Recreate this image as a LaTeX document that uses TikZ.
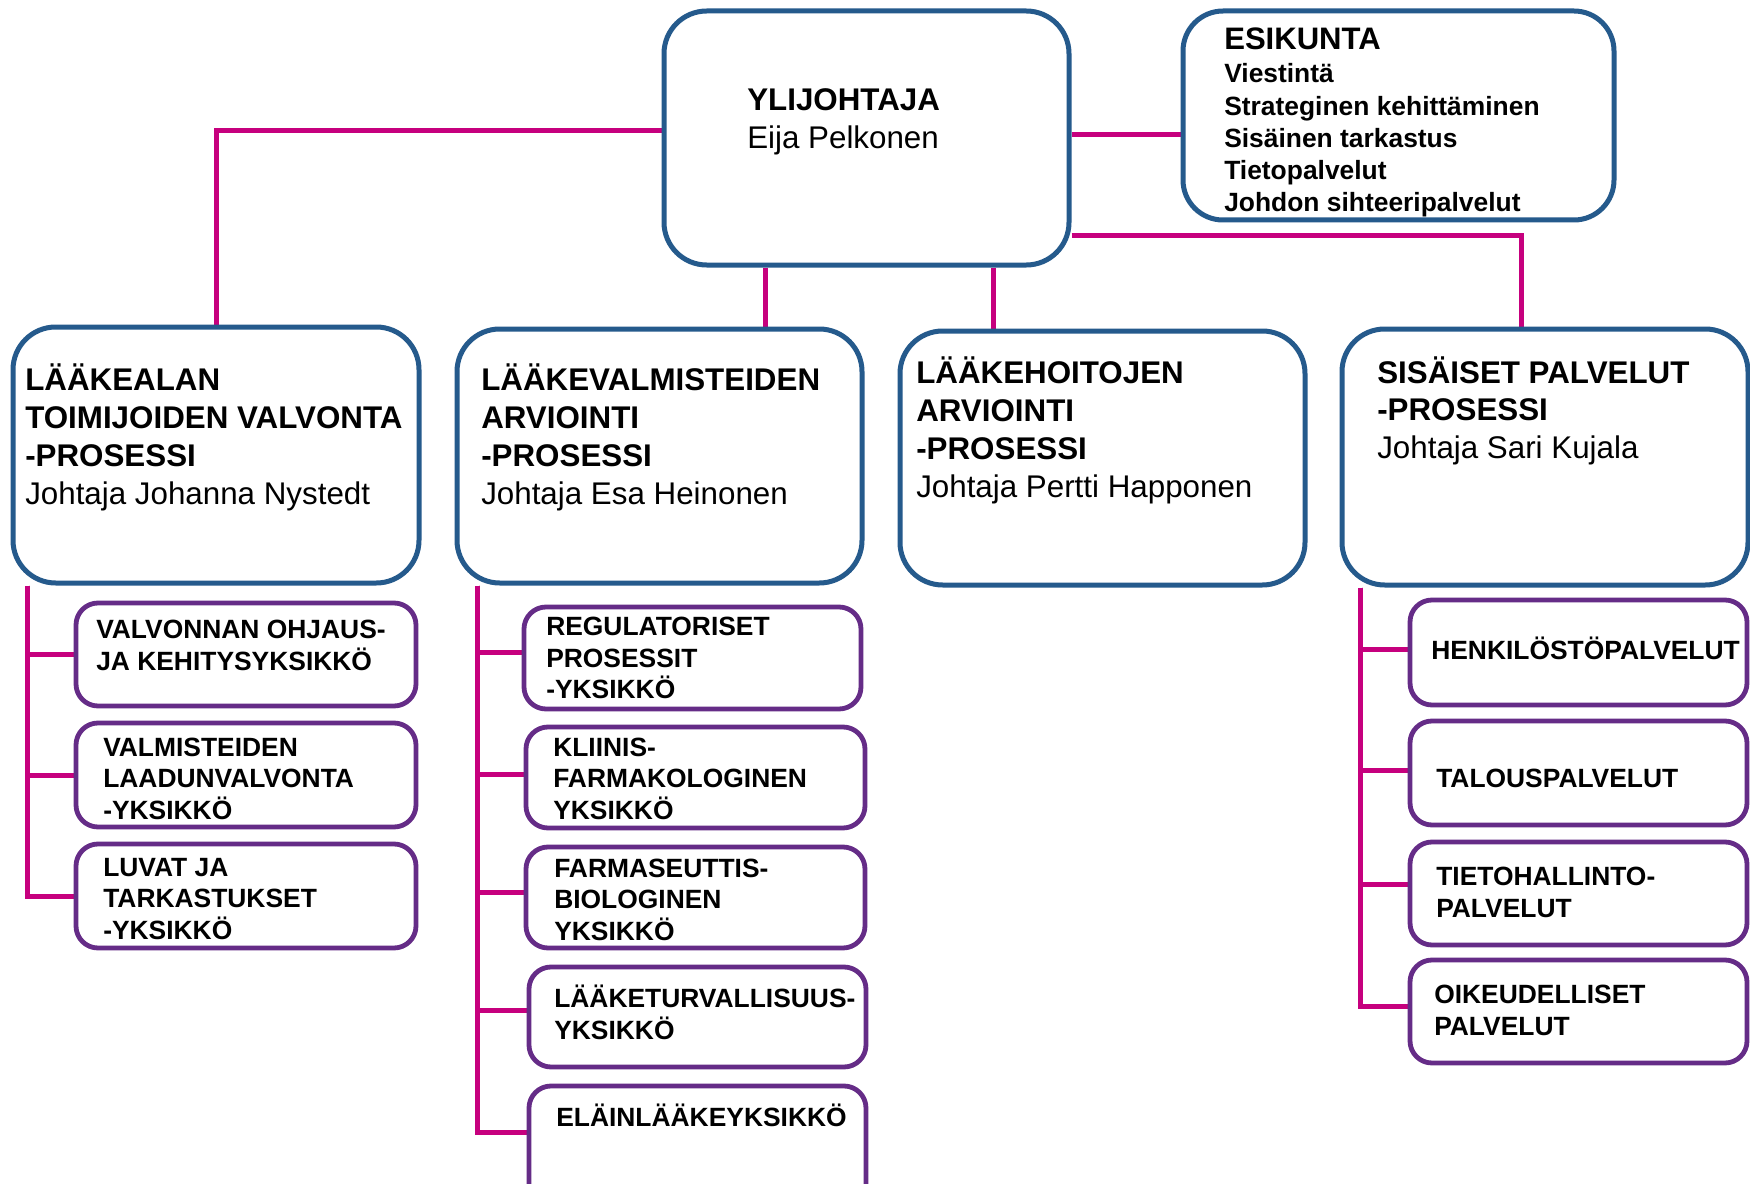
\documentclass[tikz,border=0pt]{standalone}
\usepackage{fontspec}
\setmainfont{Liberation Sans}
\usetikzlibrary{backgrounds}
\definecolor{boxblue}{RGB}{37,90,140}
\definecolor{boxpurple}{RGB}{101,44,135}
\definecolor{conmag}{RGB}{198,0,126}
\tikzset{
  bluebox/.style={rectangle, draw=boxblue, line width=3.75pt, fill=white, rounded corners=32pt, inner sep=0pt},
  esikbox/.style={bluebox, rounded corners=30pt},
  purplebox/.style={rectangle, draw=boxpurple, line width=3.6pt, fill=white, rounded corners=16.5pt, inner sep=0pt},
  conn/.style={draw=conmag, line width=3.75pt},
  bigtxt/.style={font=\fontsize{23.5pt}{28pt}\selectfont\bfseries},
  esktitle/.style={font=\fontsize{23.3pt}{28pt}\selectfont\bfseries},
  esklist/.style={font=\fontsize{19.8pt}{24pt}\selectfont\bfseries},
  unittxt/.style={font=\fontsize{19.8pt}{24pt}\selectfont\bfseries},
}
\newcommand\mkbox[6]{%
  \pgfmathsetmacro\bw{(#5-#3)*0.75}%
  \pgfmathsetmacro\bh{(#6-#4)*0.75}%
  \node[#2, minimum width=\bw pt, minimum height=\bh pt] (#1) at ({(#3+#5)/2},{(#4+#6)/2}) {};}
\newcommand\mklines[6]{%
  \foreach \l [count=\i from 0] in {#6}{%
    \node[#2, anchor=base west, inner sep=0pt] (#1-\i) at ({#3},{#4+\i*#5}) {\l};}}
\begin{document}
\begin{tikzpicture}[x=0.75pt, y=-0.75pt]
\useasboundingbox (0,0) rectangle (1750,1184);

% boxes
\mkbox{top}{bluebox}{664}{11}{1069}{265}
\mkbox{esk}{esikbox}{1183}{11}{1614}{220}
\mkbox{b1}{bluebox}{13}{327}{419}{583}
\mkbox{b2}{bluebox}{457}{329}{862}{583}
\mkbox{b3}{bluebox}{900}{331}{1305}{585}
\mkbox{b4}{bluebox}{1342}{329}{1748}{585}

\mkbox{l1}{purplebox}{76}{603}{416}{706}
\mkbox{l2}{purplebox}{76}{723}{416}{827}
\mkbox{l3}{purplebox}{76}{844}{416}{948}

\mkbox{m1}{purplebox}{524}{607}{861}{709}
\mkbox{m2}{purplebox}{526}{727}{865}{828}
\mkbox{m3}{purplebox}{526}{847}{865}{948}
\mkbox{m4}{purplebox}{529}{967}{866}{1067}
\mkbox{m5}{purplebox}{529}{1086}{866}{1250}

\mkbox{r1}{purplebox}{1410}{600}{1747}{705}
\mkbox{r2}{purplebox}{1410}{721}{1747}{825}
\mkbox{r3}{purplebox}{1410}{842}{1747}{945}
\mkbox{r4}{purplebox}{1410}{960}{1747}{1063}

% connectors
\begin{pgfonlayer}{background}
\fill[white] (0,0) rectangle (1750,1184);
\draw[conn] ([yshift=5.25pt]top.west) -| (b1.north);
\draw[conn] ([yshift=2.25pt]top.east) -- ([yshift=2.25pt]top.east -| esk.west);
\draw[conn] ([xshift=-75.4pt]top.south) -- ([xshift=-75.4pt]top.south |- b2.north);
\draw[conn] ([xshift=95.6pt]top.south) -- ([xshift=95.6pt]top.south |- b3.north);
\draw[conn] ([yshift=-73.5pt]top.east) -| ([xshift=-18pt]b4.north);

\draw[conn] ([xshift=12.4pt]b1.south west) |- (l1.west);
\draw[conn] ([xshift=12.4pt]b1.south west) |- (l2.west);
\draw[conn] ([xshift=12.4pt]b1.south west) |- (l3.west);

\draw[conn] ([xshift=17.6pt]b2.south west) |- ([yshift=4pt]m1.west);
\draw[conn] ([xshift=17.6pt]b2.south west) |- ([yshift=2.25pt]m2.west);
\draw[conn] ([xshift=17.6pt]b2.south west) |- ([yshift=4pt]m3.west);
\draw[conn] ([xshift=17.6pt]b2.south west) |- ([yshift=4.9pt]m4.west);
\draw[conn] ([xshift=17.6pt]b2.south west) |- ([yshift=-37pt]m5.north west);

\draw[conn] ([xshift=16.1pt]b4.south west) |- ([yshift=2.6pt]r1.west);
\draw[conn] ([xshift=16.1pt]b4.south west) |- ([yshift=2.25pt]r2.west);
\draw[conn] ([xshift=16.1pt]b4.south west) |- ([yshift=7pt]r3.west);
\draw[conn] ([xshift=16.1pt]b4.south west) |- ([yshift=3.4pt]r4.west);
\end{pgfonlayer}

% texts
\mklines{ttop}{bigtxt}{747}{111}{38}{YLIJOHTAJA, \mdseries Eija Pelkonen}
\mklines{tesk}{esktitle}{1224}{50}{0}{ESIKUNTA}
\mklines{tesl}{esklist}{1224}{83}{32.25}{Viestintä, Strateginen kehittäminen, Sisäinen tarkastus, Tietopalvelut, Johdon sihteeripalvelut}
\mklines{tb1}{bigtxt}{25}{390}{38}{LÄÄKEALAN, TOIMIJOIDEN VALVONTA, -PROSESSI, \mdseries Johtaja Johanna Nystedt}
\mklines{tb2}{bigtxt}{481}{390}{38}{LÄÄKEVALMISTEIDEN, ARVIOINTI, -PROSESSI, \mdseries Johtaja Esa Heinonen}
\mklines{tb3}{bigtxt}{916}{383}{38}{LÄÄKEHOITOJEN, ARVIOINTI, -PROSESSI, \mdseries Johtaja Pertti Happonen}
\mklines{tb4}{bigtxt}{1377}{383}{37.5}{SISÄISET PALVELUT, -PROSESSI, \mdseries Johtaja Sari Kujala}

\mklines{tl1}{unittxt}{96}{638}{32}{VALVONNAN OHJAUS-, JA KEHITYSYKSIKKÖ}
\mklines{tl2}{unittxt}{103}{756}{31.5}{VALMISTEIDEN, LAADUNVALVONTA, -YKSIKKÖ}
\mklines{tl3}{unittxt}{103}{876}{31.5}{LUVAT JA, TARKASTUKSET, -YKSIKKÖ}

\mklines{tm1}{unittxt}{546}{635.5}{31.6}{REGULATORISET, PROSESSIT, -YKSIKKÖ}
\mklines{tm2}{unittxt}{553}{756}{31.6}{KLIINIS-, FARMAKOLOGINEN, YKSIKKÖ}
\mklines{tm3}{unittxt}{554}{877}{31.6}{FARMASEUTTIS-, BIOLOGINEN, YKSIKKÖ}
\mklines{tm4}{unittxt}{554}{1007}{32}{LÄÄKETURVALLISUUS-, YKSIKKÖ}
\mklines{tm5}{unittxt}{556}{1126}{0}{ELÄINLÄÄKEYKSIKKÖ}

\mklines{tr1}{unittxt}{1431}{659}{0}{HENKILÖSTÖPALVELUT}
\mklines{tr2}{unittxt}{1436}{787}{0}{TALOUSPALVELUT}
\mklines{tr3}{unittxt}{1436}{885}{32}{TIETOHALLINTO-, PALVELUT}
\mklines{tr4}{unittxt}{1434}{1003}{32}{OIKEUDELLISET, PALVELUT}
\end{tikzpicture}
\end{document}
